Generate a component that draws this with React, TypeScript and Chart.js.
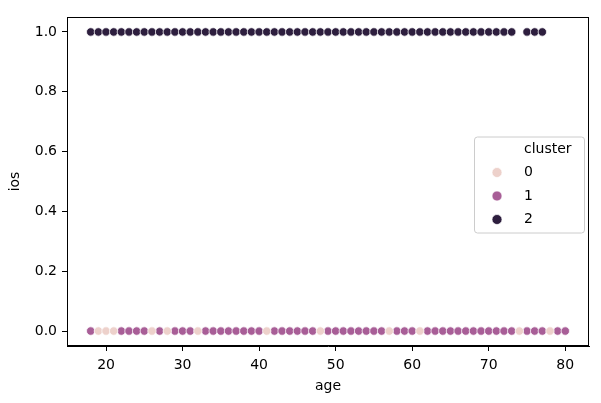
import React, { useEffect, useRef } from 'react';
import { Chart, registerables } from 'chart.js';

Chart.register(...registerables);

// ---- data ----
const ages0 = [19, 20, 21, 26, 28, 32, 41, 48, 57, 61, 74, 78];
const ages1 = [18, 22, 23, 24, 25, 27, 29, 30, 31, 33, 34, 35, 36, 37, 38, 39, 40, 42, 43, 44, 45, 46, 47, 49, 50, 51, 52, 53, 54, 55, 56, 58, 59, 60, 62, 63, 64, 65, 66, 67, 68, 69, 70, 71, 72, 73, 75, 76, 77, 79, 80];
const ages2 = [18, 19, 20, 21, 22, 23, 24, 25, 26, 27, 28, 29, 30, 31, 32, 33, 34, 35, 36, 37, 38, 39, 40, 41, 42, 43, 44, 45, 46, 47, 48, 49, 50, 51, 52, 53, 54, 55, 56, 57, 58, 59, 60, 61, 62, 63, 64, 65, 66, 67, 68, 69, 70, 71, 72, 73, 75, 76, 77];
const clusterAges = [ages0, ages1, ages2];
const clusterIos = [0, 0, 1];
const clusterLabels = ['0', '1', '2'];
const legendTitle = 'cluster';
const xTicks = [20, 30, 40, 50, 60, 70, 80];
const yTicks = [0, 0.2, 0.4, 0.6, 0.8, 1.0];
const xLabel = 'age';
const yLabel = 'ios';

// ---- styles ----
const clusterColors = ['#edd1cb', '#a85e97', '#2d1e3e'];
const FONT = 'DejaVu Sans';
const FS = 14;

const framePlugin = {
  id: 'frame',
  afterDatasetsDraw(chart: any) {
    const { ctx, chartArea } = chart;
    ctx.save();
    ctx.strokeStyle = '#000';
    ctx.lineWidth = 1;
    ctx.strokeRect(
      Math.round(chartArea.left) + 0.5,
      Math.round(chartArea.top) + 0.5,
      Math.round(chartArea.right - chartArea.left) - 1,
      Math.round(chartArea.bottom - chartArea.top) - 1
    );
    ctx.restore();
  },
};

const legendPlugin = {
  id: 'customLegend',
  afterDraw(chart: any) {
    const { ctx, chartArea } = chart;
    const w = 110;
    const h = 96;
    const x = chartArea.right - 5 - w;
    const y = (chartArea.top + chartArea.bottom) / 2 - h / 2 + 3;
    ctx.save();
    ctx.beginPath();
    ctx.roundRect(x + 0.5, y + 0.5, w, h, 3);
    ctx.fillStyle = 'rgba(255,255,255,0.8)';
    ctx.fill();
    ctx.strokeStyle = '#cccccc';
    ctx.lineWidth = 1;
    ctx.stroke();
    ctx.font = `${FS}px "${FONT}"`;
    ctx.fillStyle = '#000';
    ctx.textBaseline = 'middle';
    ctx.textAlign = 'left';
    const labelX = x + 50;
    const markerX = x + 23;
    ctx.fillText(legendTitle, labelX, y + 13);
    chart.data.datasets.forEach((ds: any, i: number) => {
      const ry = y + 36 + i * 23.5;
      ctx.beginPath();
      ctx.arc(markerX, ry, 5, 0, Math.PI * 2);
      ctx.fillStyle = ds.backgroundColor;
      ctx.fill();
      ctx.strokeStyle = '#fff';
      ctx.lineWidth = 0.7;
      ctx.stroke();
      ctx.fillStyle = '#000';
      ctx.fillText(ds.label, labelX, ry);
    });
    ctx.restore();
  },
};

export default function App() {
  const canvasRef = useRef<HTMLCanvasElement | null>(null);

  useEffect(() => {
    if (!canvasRef.current) return;
    const datasets = clusterAges.map((ages, i) => ({
      label: clusterLabels[i],
      data: ages.map((a) => ({ x: a, y: clusterIos[i] })),
      backgroundColor: clusterColors[i],
      borderColor: '#ffffff',
      borderWidth: 0.7,
      pointRadius: 4.2,
      pointHoverRadius: 4.2,
    }));
    const chart = new Chart(canvasRef.current, {
      type: 'scatter',
      data: { datasets },
      plugins: [framePlugin, legendPlugin],
      options: {
        animation: false,
        responsive: false,
        maintainAspectRatio: false,
        devicePixelRatio: 1,
        layout: { padding: { left: 3, top: 17, right: 12, bottom: 4 } },
        plugins: {
          legend: { display: false },
          tooltip: { enabled: false },
        },
        scales: {
          x: {
            type: 'linear',
            min: 14.9,
            max: 83.1,
            afterBuildTicks: (scale: any) => {
              scale.ticks = xTicks.map((v) => ({ value: v }));
            },
            afterFit: (scale: any) => {
              scale.height = 53;
            },
            grid: { drawOnChartArea: false, drawTicks: true, tickLength: 5, color: '#000', tickWidth: 1 },
            border: { display: true, color: '#000', width: 1 },
            ticks: {
              color: '#000',
              font: { family: FONT, size: FS },
              padding: 6,
              maxRotation: 0,
              callback: (v: any) => String(v),
            },
            title: { display: true, text: xLabel, color: '#000', font: { family: FONT, size: FS } },
          },
          y: {
            type: 'linear',
            min: -0.05,
            max: 1.05,
            afterBuildTicks: (scale: any) => {
              scale.ticks = yTicks.map((v) => ({ value: v }));
            },
            afterFit: (scale: any) => {
              scale.width = 64;
            },
            grid: { drawOnChartArea: false, drawTicks: true, tickLength: 5, color: '#000', tickWidth: 1 },
            border: { display: true, color: '#000', width: 1 },
            ticks: {
              color: '#000',
              font: { family: FONT, size: FS },
              padding: 5,
              callback: (v: any) => Number(v).toFixed(1),
            },
            title: { display: true, text: yLabel, color: '#000', font: { family: FONT, size: FS } },
          },
        },
      },
    });
    return () => chart.destroy();
  }, []);

  return (
    <div style={{ position: 'absolute', left: 0, top: 0, width: 601, height: 403, background: '#fff' }}>
      <canvas ref={canvasRef} width={601} height={403} style={{ display: 'block' }} />
    </div>
  );
}
